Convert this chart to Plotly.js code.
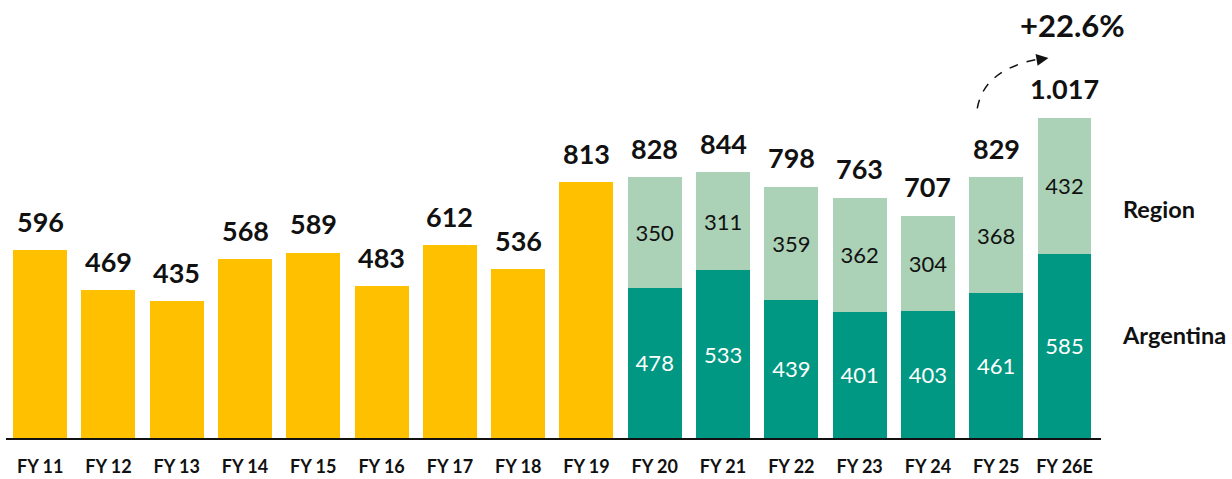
<!DOCTYPE html>
<html>
<head>
<meta charset="utf-8">
<script src="https://cdn.plot.ly/plotly-3.0.1.min.js"></script>
<style>
  html, body { margin: 0; padding: 0; background: #fff; }
  #chart { width: 1232px; height: 479px; }
</style>
</head>
<body>
<div id="chart"></div>
<script>
// years before the split (single total)
let aniosTotal = ["FY 11", "FY 12", "FY 13", "FY 14", "FY 15", "FY 16", "FY 17", "FY 18", "FY 19"];
let valoresTotal = [596, 469, 435, 568, 589, 483, 612, 536, 813];

// years split Argentina / Region
let aniosSplit = ["FY 20", "FY 21", "FY 22", "FY 23", "FY 24", "FY 25", "FY 26E"];
let argentina = [478, 533, 439, 401, 403, 461, 585];
let region = [350, 311, 359, 362, 304, 368, 432];

let crecimiento = "+22.6%";

let fuente = "Lato, 'Open Sans', sans-serif";
let amarillo = "#FFC000";
let verdeOscuro = "#009882";
let verdeClaro = "#ABD2B7";

// 1017 -> "1.017"
function formato(n) {
    return n.toString().replace(/\B(?=(\d{3})+(?!\d))/g, ".");
}

let categorias = aniosTotal.concat(aniosSplit);
let totales = valoresTotal.concat(argentina.map((v, i) => v + region[i]));

var data = [
    {
        x: aniosTotal,
        y: valoresTotal,
        type: 'bar',
        marker: { color: amarillo },
        hoverinfo: 'skip',
        showlegend: false
    },
    {
        x: aniosSplit,
        y: argentina,
        type: 'bar',
        name: 'Argentina',
        marker: { color: verdeOscuro },
        text: argentina.map(String),
        textposition: 'inside',
        insidetextanchor: 'middle',
        textangle: 0,
        textfont: { family: fuente, size: 22, color: '#ffffff' },
        hoverinfo: 'skip',
        showlegend: false
    },
    {
        x: aniosSplit,
        y: region,
        type: 'bar',
        name: 'Region',
        marker: { color: verdeClaro },
        text: region.map(String),
        textposition: 'inside',
        insidetextanchor: 'middle',
        textangle: 0,
        textfont: { family: fuente, size: 22, color: '#111111' },
        hoverinfo: 'skip',
        showlegend: false
    }
];

let anotaciones = categorias.map((c, i) => ({
    x: c,
    y: totales[i],
    text: formato(totales[i]),
    showarrow: false,
    yanchor: 'middle',
    yshift: 29,
    font: { family: fuente, size: 27, color: '#111111', weight: 'bold' }
}));

// growth label and arrow head
anotaciones.push({
    xref: 'paper', yref: 'paper',
    x: 0.9744, y: 0.965,
    xanchor: 'center', yanchor: 'middle',
    text: crecimiento,
    showarrow: false,
    font: { family: fuente, size: 31, color: '#111111', weight: 'bold' }
});
anotaciones.push({
    xref: 'paper', yref: 'paper',
    x: 0.952, y: 0.888,
    ax: -12, ay: 2,
    axref: 'pixel', ayref: 'pixel',
    text: '',
    showarrow: true,
    arrowhead: 2,
    arrowsize: 1.6,
    arrowwidth: 1.5,
    arrowcolor: '#111111'
});

// series names at the right
anotaciones.push({
    xref: 'paper', yref: 'paper',
    x: 1.0183, y: 0.535, xanchor: 'left', yanchor: 'middle',
    text: 'Region', showarrow: false,
    font: { family: fuente, size: 23.5, color: '#111111', weight: 'bold' }
});
anotaciones.push({
    xref: 'paper', yref: 'paper',
    x: 1.0174, y: 0.241, xanchor: 'left', yanchor: 'middle',
    text: 'Argentina', showarrow: false,
    font: { family: fuente, size: 23.5, color: '#111111', weight: 'bold' }
});

var layout = {
    width: 1232,
    height: 479,
    margin: { l: 6, r: 131, t: 10, b: 41 },
    barmode: 'stack',
    bargap: 0.21,
    plot_bgcolor: '#ffffff',
    paper_bgcolor: '#ffffff',
    font: { family: fuente, color: '#111111' },
    xaxis: {
        type: 'category',
        categoryorder: 'array',
        categoryarray: categorias,
        showline: true,
        linecolor: '#111111',
        linewidth: 2,
        showgrid: false,
        zeroline: false,
        ticks: '',
        ticklabelstandoff: 11,
        tickfont: { family: fuente, size: 18, color: '#111111', weight: 'bold' }
    },
    yaxis: {
        range: [0, 1360],
        visible: false,
        showgrid: false,
        zeroline: false
    },
    annotations: anotaciones,
    shapes: [
        {
            type: 'path',
            xref: 'paper', yref: 'paper',
            // dashed curve from above FY 25 up to the arrow head
            path: 'M 0.887,0.77 Q 0.893,0.86 0.942,0.885',
            line: { color: '#111111', width: 1.5, dash: 'dash' }
        }
    ]
};

Plotly.newPlot('chart', data, layout, { displayModeBar: false, staticPlot: true });
</script>
</body>
</html>
